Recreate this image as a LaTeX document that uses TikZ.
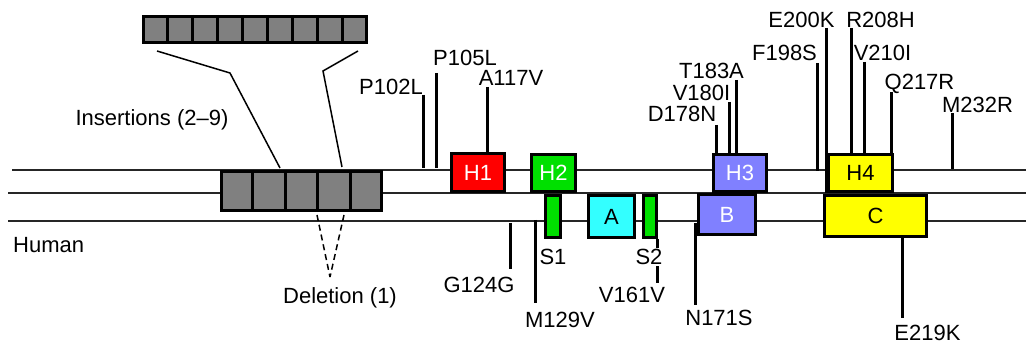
\documentclass[tikz,border=0pt]{standalone}
\usepackage{fontspec}
\setmainfont{Liberation Sans}
\usetikzlibrary{calc}
\definecolor{boxgray}{HTML}{808080}
\definecolor{peri}{HTML}{8080FF}
\definecolor{hgreen}{HTML}{00E000}
\definecolor{acyan}{HTML}{33FFFF}
\definecolor{yel}{HTML}{FFFF00}
\begin{document}
\begin{tikzpicture}[x=1pt,y=-1pt,
 lab/.style={font=\fontsize{22}{26}\selectfont, inner sep=0pt, text height=15.75pt, text depth=0pt},
 dom/.style={draw=black, line width=3pt, inner sep=0pt, font=\fontsize{22}{26}\selectfont, text height=15.75pt, text depth=0pt},
 stem/.style={line width=3pt},
 track/.style={line width=1.5pt, draw=black!85},
 thinline/.style={line width=1.5pt},
 blk/.style={draw=black, line width=3pt, fill=boxgray, inner sep=0pt}
]
\useasboundingbox (0,0) rectangle (1026,344);
% tracks
\coordinate (t1a) at (12,170); \coordinate (t1b) at (1026,170);
\coordinate (t2a) at (8,193);  \coordinate (t2b) at (1026,193);
\coordinate (t3a) at (8,221);  \coordinate (t3b) at (1026,221);
\draw[track] (t1a) -- (t1b);
\draw[track] (t2a) -- (t2b);
\draw[track] (t3a) -- (t3b);
% stems
\foreach \n/\x/\ya/\yb in {p102/423/95/168, p105/436/73/168, a117/487/87/152,
  d178/716/125/153, v180/729/102/153, t183/736/80/153, f198/817/63/171,
  e200/826/28/193, r208/851/28/153, v210/864/62/153, q217/891/92/153,
  m232/952/113/169, g124/510/223/269, m129/535/220/303, v161/657/239/283,
  n171/695/223/305, e219/902/238/318}{
  \coordinate (\n t) at (\x,\ya); \coordinate (\n b) at (\x,\yb);
  \draw[stem] (\n t) -- (\n b);
}
% insertion blocks
\node[blk, minimum width=223pt, minimum height=26pt] (top) at (255,29.5) {};
\foreach \k in {1,...,8}{
  \draw[line width=3pt] ($(top.north west)!\k/9!(top.north east)$) -- ($(top.south west)!\k/9!(top.south east)$);
}
\node[blk, minimum width=160pt, minimum height=39pt] (main) at (301.5,191) {};
\foreach \k in {1,...,4}{
  \draw[line width=3pt] ($(main.north west)!\k/5!(main.north east)$) -- ($(main.south west)!\k/5!(main.south east)$);
}
\coordinate (L1) at (157,51); \coordinate (L2) at (230,73); \coordinate (L3) at (280,168);
\coordinate (R1) at (358,51); \coordinate (R2) at (323,71); \coordinate (R3) at (342,167);
\draw[thinline] (L1) -- (L2) -- (L3);
\draw[thinline] (R1) -- (R2) -- (R3);
\coordinate (D1) at (317,215); \coordinate (D2) at (344,215); \coordinate (D0) at (330,277);
\draw[thinline, dash pattern=on 6pt off 4pt] (D1) -- (D0);
\draw[thinline, dash pattern=on 6pt off 4pt] (D2) -- (D0);
% domains
\node[dom, fill=red, text=white, minimum width=53pt, minimum height=38pt] (H1) at (478,172.5) {H1};
\node[dom, fill=hgreen, text=white, minimum width=44pt, minimum height=37pt] (H2) at (553.5,173) {H2};
\node[dom, fill=hgreen, minimum width=15pt, minimum height=42pt] (S1) at (553,216.5) {};
\node[dom, fill=acyan, minimum width=46pt, minimum height=42pt] (A) at (611.5,216.5) {A};
\node[dom, fill=hgreen, minimum width=13pt, minimum height=42pt] (S2) at (650,216.5) {};
\node[dom, fill=peri, text=white, minimum width=57pt, minimum height=40pt] (B) at (727,214.5) {B};
\node[dom, fill=peri, text=white, minimum width=53pt, minimum height=37pt] (H3) at (740,173) {H3};
\node[dom, fill=yel, minimum width=102pt, minimum height=41pt] (C) at (875.5,216) {C};
\node[dom, fill=yel, minimum width=64pt, minimum height=37pt] (H4) at (860.5,173) {H4};
% labels
\node[lab] (lp102) at (391,87) {P102L};
\node[lab] (lp105) at (465,58) {P105L};
\node[lab] (la117) at (511,78) {A117V};
\node[lab] (ld178) at (682,114) {D178N};
\node[lab] (lv180) at (701.5,93) {V180I};
\node[lab] (lt183) at (711.5,71) {T183A};
\node[lab] (lf198) at (784.5,53) {F198S};
\node[lab] (le200) at (801.5,20) {E200K};
\node[lab] (lr208) at (880.5,20) {R208H};
\node[lab] (lv210) at (882.5,53) {V210I};
\node[lab] (lq217) at (919.5,82) {Q217R};
\node[lab] (lm232) at (977.5,105) {M232R};
\node[lab] (lg124) at (479,285) {G124G};
\node[lab] (lm129) at (560,320) {M129V};
\node[lab] (lv161) at (632,295) {V161V};
\node[lab] (ln171) at (719,318) {N171S};
\node[lab] (le219) at (927.5,333) {E219K};
\node[lab] (lS1) at (553,257) {S1};
\node[lab, fill=white, inner sep=1pt] (lS2) at (649,257) {S2};
\node[lab] (lins) at (152,118) {Insertions (2–9)};
\node[lab, anchor=west] (lhum) at (13,245) {Human};
\node[lab] (ldel) at (340,296) {Deletion (1)};
\end{tikzpicture}
\end{document}
